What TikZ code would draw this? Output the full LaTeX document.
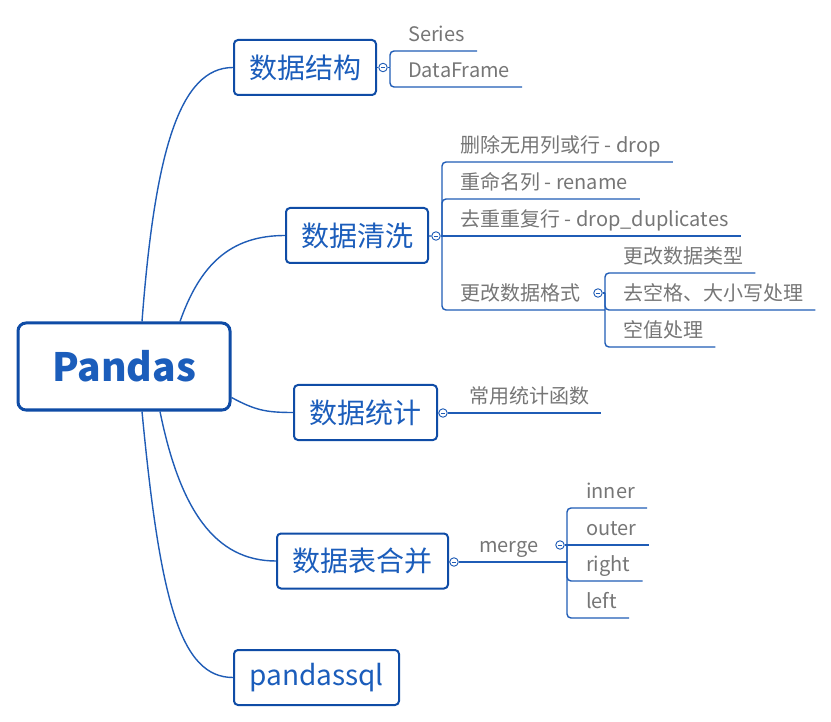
\documentclass[tikz,border=0pt]{standalone}
\usepackage{fontspec}
\setmainfont{Noto Sans CJK SC}
\usetikzlibrary{calc}

\definecolor{linkblue}{HTML}{1F5CB6}
\definecolor{boxblue}{HTML}{0F4CA6}
\definecolor{topicblue}{HTML}{1B5DBB}
\definecolor{leafgray}{HTML}{767676}

\tikzset{
  root/.style={draw=boxblue, line width=3pt, rounded corners=8pt, fill=white, text=topicblue,
    font=\fontsize{39}{39}\selectfont\bfseries, minimum width=212pt, minimum height=87pt},
  topic/.style={draw=boxblue, line width=2pt, rounded corners=4pt, fill=white, text=topicblue,
    font=\fontsize{28}{28}\selectfont, minimum height=55pt, anchor=west, inner sep=0pt},
  leaf/.style={anchor=south west, inner xsep=12pt, inner ysep=0pt, text height=16pt, text depth=9pt,
    text=leafgray, font=\fontsize{20}{20}\selectfont},
  link/.style={draw=linkblue, line width=1.4pt},
  bracket/.style={link, rounded corners=4pt},
  fold/.style={circle, draw=linkblue, line width=0.9pt, fill=white, minimum size=8.5pt, inner sep=0pt,
    path picture={\draw[linkblue, line width=0.8pt] ([xshift=2pt]path picture bounding box.west) -- ([xshift=-2pt]path picture bounding box.east);}},
}

\begin{document}
\begin{tikzpicture}[x=1pt, y=-1pt]
  \useasboundingbox (0,0) rectangle (831,722);

  %%%%% root and topics %%%%%
  \node[root] (pandas) at (124,366.5) {Pandas};
  \node[topic, minimum width=142pt] (struct) at (233,67.5) {数据结构};
  \node[topic, minimum width=142pt] (clean) at (285,235.5) {数据清洗};
  \node[topic, minimum width=143pt] (stats) at (293,412.5) {数据统计};
  \node[topic, minimum width=171pt] (merge) at (276,561) {数据表合并};
  \node[topic, minimum width=165pt] (sql) at (233,677.5) {pandassql};

  \draw[link] ([xshift=18pt]pandas.north) .. controls (155,150) and (180,67.5) .. (struct.west);
  \draw[link] ([xshift=56pt]pandas.north) .. controls (200,265) and (230,235.5) .. (clean.west);
  \draw[link] ([yshift=-31pt]pandas.east) .. controls (255,410) and (265,412.5) .. (stats.west);
  \draw[link] ([xshift=36pt]pandas.south) .. controls (180,510) and (215,561) .. (merge.west);
  \draw[link] ([xshift=18pt]pandas.south) .. controls (160,600) and (180,677.5) .. (sql.west);

  %%%%% 数据结构 %%%%%
  \node[fold] (fstruct) at (383,67.5) {};
  \coordinate (jstruct) at (390,67.5);
  \node[leaf] (series) at (396,51) {Series};
  \node[leaf] (frame) at (396,87) {DataFrame};
  \draw[link] (struct) -- (fstruct);
  \draw[link] (fstruct) -- (jstruct);
  \draw[bracket] (jstruct) |- (series.south east);
  \draw[bracket] (jstruct) |- (frame.south east);

  %%%%% 数据清洗 %%%%%
  \node[fold] (fclean) at (436,236) {};
  \coordinate (jclean) at (442,236);
  \node[leaf] (drop) at (448,162) {删除无用列或行 - drop};
  \node[leaf] (rename) at (448,199) {重命名列 - rename};
  \node[leaf] (dedup) at (448,236) {去重重复行 - drop\_duplicates};
  \node[leaf] (format) at (448,310) {更改数据格式};
  \node[fold] (fformat) at (598,293) {};
  \coordinate (jformat) at (605,293);
  \node[leaf] (dtype) at (611,273) {更改数据类型};
  \node[leaf] (strip) at (611,310) {去空格、大小写处理};
  \node[leaf] (nulls) at (611,347) {空值处理};
  \draw[link] (clean) -- (fclean);
  \draw[link] (fclean) -- (jclean);
  \foreach \n in {drop,rename}
    \draw[bracket] (jclean) |- (\n.south east);
  \draw[link] (jclean) -- (jclean -| dedup.south east);
  \draw[bracket] (jclean) |- (jformat |- format.south);
  \draw[link] (fformat) -- (jformat);
  \foreach \n in {dtype,strip,nulls}
    \draw[bracket] (jformat) |- (\n.south east);

  %%%%% 数据统计 %%%%%
  \node[fold] (fstats) at (443,413) {};
  \node[leaf] (funcs) at (457,413) {常用统计函数};
  \draw[link] (stats) -- (fstats);
  \draw[link] (fstats) -- (funcs.south east);

  %%%%% 数据表合并 %%%%%
  \node[fold] (fmerge) at (454,562) {};
  \node[leaf] (mergefn) at (467,562) {merge};
  \node[fold] (fmergefn) at (560,545) {};
  \coordinate (jmerge) at (567,545);
  \node[leaf] (innerjoin) at (574,508) {inner};
  \node[leaf] (outerjoin) at (574,545) {outer};
  \node[leaf] (rightjoin) at (574,581) {right};
  \node[leaf] (leftjoin) at (574,618) {left};
  \draw[link] (merge) -- (fmerge);
  \draw[link] (fmerge) -- (jmerge |- mergefn.south);
  \draw[link] (fmergefn) -- (jmerge);
  \draw[link] (jmerge) -- (jmerge -| outerjoin.south east);
  \foreach \n in {innerjoin,rightjoin,leftjoin}
    \draw[bracket] (jmerge) |- (\n.south east);
\end{tikzpicture}
\end{document}
